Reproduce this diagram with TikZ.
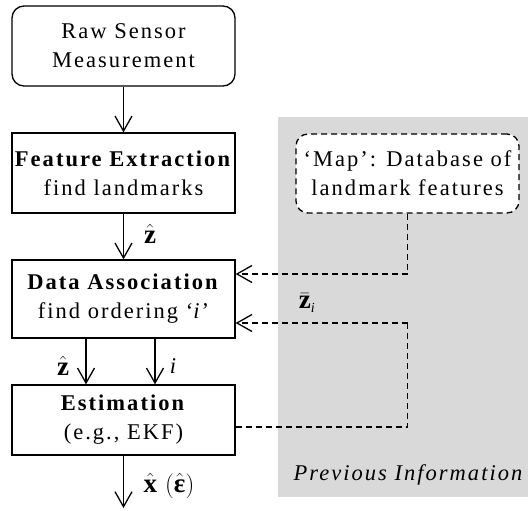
\documentclass[tikz,border=0pt]{standalone}
\usepackage{fontspec}
\setmainfont{Liberation Serif}[LetterSpace=9]
\usetikzlibrary{arrows.meta}
\tikzset{
  box/.style={draw, line width=1.3pt, minimum width=223pt, align=center, inner sep=0pt, fill=white},
  txt/.style={font=\fontsize{22.5}{29}\selectfont},
  lbl/.style={font=\fontsize{22.5}{29}\selectfont, inner sep=0pt},
  mlbl/.style={font=\fontsize{27}{32}\selectfont, inner sep=0pt},
  arr/.style={line width=1.3pt, -{Straight Barb[length=15pt,width=17pt,line width=1.3pt]}},
  dsh/.style={line width=1.3pt, dash pattern=on 6pt off 4pt},
}
\begin{document}
\begin{tikzpicture}[x=1pt,y=-1pt]
\useasboundingbox (0,0) rectangle (528,511);
\fill[gray!30] (278,117) rectangle (528,497);
\node[box,txt,rounded corners=12pt,minimum height=80pt] (RS) at (123.5,46) {Raw Sensor\\Measurement};
\node[box,txt,minimum height=80pt] (FE) at (123.5,173) {\textbf{Feature Extraction}\\find landmarks};
\node[box,txt,minimum height=78pt] (DA) at (123.5,299) {\textbf{Data Association}\\find ordering `\textit{i}'};
\node[box,txt,minimum height=70pt] (ES) at (123.5,420) {\textbf{Estimation}\\(e.g., EKF)};
\node[box,txt,dsh,rounded corners=12pt,minimum height=79pt] (MAP) at (407.5,173.5) {`Map': Database of\\landmark features};
\coordinate (a1) at (86,0);
\coordinate (a2) at (155,0);
\coordinate (out) at (123.5,508);
\coordinate (j1) at (407.5,274);
\coordinate (k1) at (407.5,427);
\coordinate (k2) at (407.5,323);
\draw[arr] (RS) -- (FE);
\draw[arr] (FE) -- (DA);
\draw[arr] (DA.south -| a1) -- (ES.north -| a1);
\draw[arr] (DA.south -| a2) -- (ES.north -| a2);
\draw[arr] (ES) -- (out);
\draw[dsh] (MAP.south) -- (j1);
\draw[dsh,arr] (j1) -- (DA.east |- j1);
\draw[dsh] (ES.east |- k1) -- (k1) -- (k2);
\draw[dsh,arr] (k2) -- (DA.east |- k2);
\node[mlbl] (l1) at (150,234) {$\hat{\hbox{\bfseries z}}$};
\node[mlbl] (l2) at (63,366) {$\hat{\hbox{\bfseries z}}$};
\node[lbl] (l3) at (174,366) {\textit{i}};
\node[mlbl] (l4) at (307,303) {$\bar{\hbox{\bfseries z}}_{\hbox{\fontsize{14}{16}\selectfont\itshape i}}$};
\node[mlbl] (l5) at (169,486) {$\hat{\hbox{\bfseries x}}\hspace{8pt}\Bigl(\hat{\hbox{\bfseries ε}}\Bigr)$};
\node[lbl,font=\fontsize{22.5}{29}\selectfont\itshape] (l6) at (408,475) {Previous Information};
\end{tikzpicture}
\end{document}
